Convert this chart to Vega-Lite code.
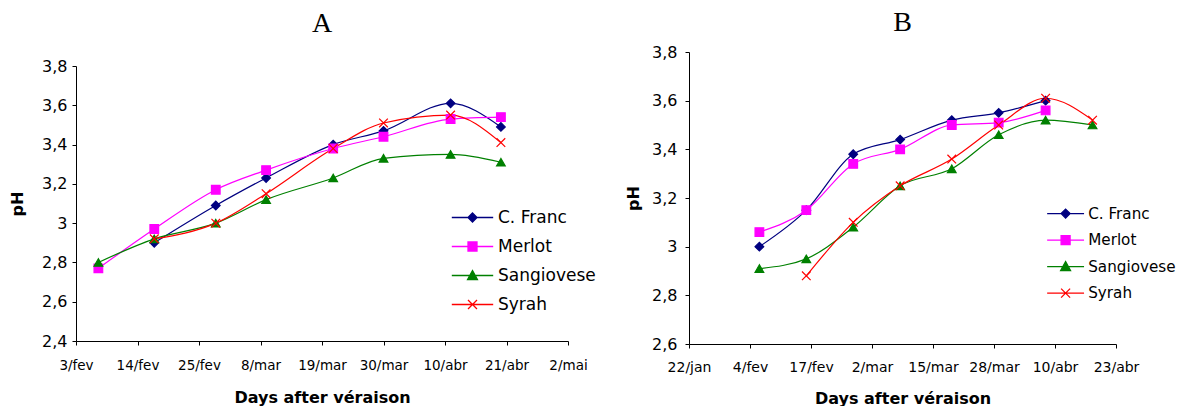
{
  "$schema": "https://vega.github.io/schema/vega-lite/v6.json",
  "background": "white",
  "padding": {"left": 9, "top": 9, "right": 0, "bottom": 0},
  "config": {
    "view": {"stroke": null},
    "font": "DejaVu Sans",
    "axis": {
      "grid": false, "domainColor": "black", "tickColor": "black", "labelColor": "black", "titleColor": "black",
      "labelFont": "DejaVu Sans", "labelFontSize": 14, "titleFont": "DejaVu Sans", "titleFontSize": 16,
      "titleFontWeight": "bold", "domainWidth": 1, "tickWidth": 1, "tickSize": 4
    },
    "axisX": {"labelFlush": false, "labelOverlap": false},
    "axisY": {"labelFontSize": 16},
    "title": {"font": "Liberation Serif", "fontSize": 28, "fontWeight": "normal", "color": "black"},
    "legend": {"labelFont": "DejaVu Sans", "labelColor": "black", "title": null}
  },
  "datasets": {
    "A": [
      {"variety": "C. Franc", "date": "2007-02-17", "pH": 2.90},
      {"variety": "C. Franc", "date": "2007-02-28", "pH": 3.09},
      {"variety": "C. Franc", "date": "2007-03-09", "pH": 3.23},
      {"variety": "C. Franc", "date": "2007-03-21", "pH": 3.40},
      {"variety": "C. Franc", "date": "2007-03-30", "pH": 3.47},
      {"variety": "C. Franc", "date": "2007-04-11", "pH": 3.61},
      {"variety": "C. Franc", "date": "2007-04-20", "pH": 3.49},
      {"variety": "Merlot", "date": "2007-02-07", "pH": 2.77},
      {"variety": "Merlot", "date": "2007-02-17", "pH": 2.97},
      {"variety": "Merlot", "date": "2007-02-28", "pH": 3.17},
      {"variety": "Merlot", "date": "2007-03-09", "pH": 3.27},
      {"variety": "Merlot", "date": "2007-03-21", "pH": 3.38},
      {"variety": "Merlot", "date": "2007-03-30", "pH": 3.44},
      {"variety": "Merlot", "date": "2007-04-11", "pH": 3.53},
      {"variety": "Merlot", "date": "2007-04-20", "pH": 3.54},
      {"variety": "Sangiovese", "date": "2007-02-07", "pH": 2.80},
      {"variety": "Sangiovese", "date": "2007-02-17", "pH": 2.92},
      {"variety": "Sangiovese", "date": "2007-02-28", "pH": 3.00},
      {"variety": "Sangiovese", "date": "2007-03-09", "pH": 3.12},
      {"variety": "Sangiovese", "date": "2007-03-21", "pH": 3.23},
      {"variety": "Sangiovese", "date": "2007-03-30", "pH": 3.33},
      {"variety": "Sangiovese", "date": "2007-04-11", "pH": 3.35},
      {"variety": "Sangiovese", "date": "2007-04-20", "pH": 3.31},
      {"variety": "Syrah", "date": "2007-02-17", "pH": 2.92},
      {"variety": "Syrah", "date": "2007-02-28", "pH": 3.00},
      {"variety": "Syrah", "date": "2007-03-09", "pH": 3.15},
      {"variety": "Syrah", "date": "2007-03-21", "pH": 3.38},
      {"variety": "Syrah", "date": "2007-03-30", "pH": 3.51},
      {"variety": "Syrah", "date": "2007-04-11", "pH": 3.55},
      {"variety": "Syrah", "date": "2007-04-20", "pH": 3.41}
    ],
    "B": [
      {"variety": "C. Franc", "date": "2007-02-06", "pH": 3.00},
      {"variety": "C. Franc", "date": "2007-02-16", "pH": 3.15},
      {"variety": "C. Franc", "date": "2007-02-26", "pH": 3.38},
      {"variety": "C. Franc", "date": "2007-03-08", "pH": 3.44},
      {"variety": "C. Franc", "date": "2007-03-19", "pH": 3.52},
      {"variety": "C. Franc", "date": "2007-03-29", "pH": 3.55},
      {"variety": "C. Franc", "date": "2007-04-08", "pH": 3.60},
      {"variety": "Merlot", "date": "2007-02-06", "pH": 3.06},
      {"variety": "Merlot", "date": "2007-02-16", "pH": 3.15},
      {"variety": "Merlot", "date": "2007-02-26", "pH": 3.34},
      {"variety": "Merlot", "date": "2007-03-08", "pH": 3.40},
      {"variety": "Merlot", "date": "2007-03-19", "pH": 3.50},
      {"variety": "Merlot", "date": "2007-03-29", "pH": 3.51},
      {"variety": "Merlot", "date": "2007-04-08", "pH": 3.56},
      {"variety": "Sangiovese", "date": "2007-02-06", "pH": 2.91},
      {"variety": "Sangiovese", "date": "2007-02-16", "pH": 2.95},
      {"variety": "Sangiovese", "date": "2007-02-26", "pH": 3.08},
      {"variety": "Sangiovese", "date": "2007-03-08", "pH": 3.25},
      {"variety": "Sangiovese", "date": "2007-03-19", "pH": 3.32},
      {"variety": "Sangiovese", "date": "2007-03-29", "pH": 3.46},
      {"variety": "Sangiovese", "date": "2007-04-08", "pH": 3.52},
      {"variety": "Sangiovese", "date": "2007-04-18", "pH": 3.50},
      {"variety": "Syrah", "date": "2007-02-16", "pH": 2.88},
      {"variety": "Syrah", "date": "2007-02-26", "pH": 3.10},
      {"variety": "Syrah", "date": "2007-03-08", "pH": 3.25},
      {"variety": "Syrah", "date": "2007-03-19", "pH": 3.36},
      {"variety": "Syrah", "date": "2007-03-29", "pH": 3.50},
      {"variety": "Syrah", "date": "2007-04-08", "pH": 3.61},
      {"variety": "Syrah", "date": "2007-04-18", "pH": 3.52}
    ]
  },
  "columns": 2,
  "align": "none",
  "spacing": 29,
  "resolve": {
    "scale": {"x": "independent", "y": "independent", "color": "independent", "shape": "independent", "stroke": "independent"},
    "legend": {"color": "independent", "shape": "independent", "stroke": "independent"}
  },
  "concat": [
    {
      "width": 492, "height": 289,
      "title": {"text": "A", "offset": 14},
      "data": {"name": "A"},
      "encoding": {
        "x": {
          "field": "date", "type": "temporal",
          "scale": {"type": "utc", "domain": [{"year": 2007, "month": 2, "date": 3, "utc": true}, {"year": 2007, "month": 5, "date": 2, "utc": true}]},
          "axis": {
            "title": "Days after véraison",
            "values": [
              {"year": 2007, "month": 2, "date": 3, "utc": true},
              {"year": 2007, "month": 2, "date": 14, "utc": true},
              {"year": 2007, "month": 2, "date": 25, "utc": true},
              {"year": 2007, "month": 3, "date": 8, "utc": true},
              {"year": 2007, "month": 3, "date": 19, "utc": true},
              {"year": 2007, "month": 3, "date": 30, "utc": true},
              {"year": 2007, "month": 4, "date": 10, "utc": true},
              {"year": 2007, "month": 4, "date": 21, "utc": true},
              {"year": 2007, "month": 5, "date": 2, "utc": true}
            ],
            "labelExpr": "utcdate(datum.value) + '/' + ['jan','fev','mar','abr','mai','jun'][utcmonth(datum.value)]",
            "labelFontSize": 13.5, "labelPadding": 13, "titlePadding": 18
          }
        },
        "y": {
          "field": "pH", "type": "quantitative",
          "scale": {"domain": [2.4, 3.8], "nice": false, "zero": false, "range": [289, 14]},
          "axis": {
            "title": "pH", "values": [2.4, 2.6, 2.8, 3.0, 3.2, 3.4, 3.6, 3.8],
            "labelExpr": "replace(format(datum.value, '.1~f'), '.', ',')",
            "labelPadding": 5, "titlePadding": 16
          }
        },
        "color": {
          "field": "variety", "type": "nominal",
          "scale": {"domain": ["C. Franc", "Merlot", "Sangiovese", "Syrah"], "range": ["#000080", "#FF00FF", "#008000", "#FF0000"]},
          "legend": {
            "orient": "none", "legendX": 388, "legendY": 157, "labelFontSize": 17,
            "symbolSize": 81, "labelOffset": 17, "rowPadding": 11,
            "encode": {
              "symbols": {
                "update": {
                  "shape": {"signal": "datum.value === 'C. Franc' ? 'M-4.6,0H4.6M0,-1L1,0L0,1L-1,0Z' : datum.value === 'Merlot' ? 'M-4.6,0H4.6M-1,-1H1V1H-1Z' : datum.value === 'Sangiovese' ? 'M-4.6,0H4.6M0,-1.1L1.1,0.9H-1.1Z' : 'M-4.6,0H4.6M-1,-1L1,1M-1,1L1,-1'"},
                  "strokeWidth": {"value": 1.3},
                  "opacity": {"value": 1}
                }
              }
            }
          }
        }
      },
      "layer": [
        {"mark": {"type": "line", "interpolate": "monotone", "strokeWidth": 1.2}},
        {
          "mark": {"type": "point", "filled": true, "size": 75, "strokeWidth": 1.2, "opacity": 1},
          "encoding": {
            "shape": {
              "field": "variety", "type": "nominal",
              "scale": {"domain": ["Syrah", "Sangiovese", "Merlot", "C. Franc"], "range": ["M-1,-1L1,1M-1,1L1,-1", "triangle-up", "square", "diamond"]},
              "legend": null
            },
            "stroke": {
              "field": "variety", "type": "nominal",
              "scale": {"domain": ["C. Franc", "Merlot", "Sangiovese", "Syrah"], "range": ["#000080", "#FF00FF", "#008000", "#FF0000"]},
              "legend": null
            }
          }
        }
      ]
    },
    {
      "width": 427, "height": 292,
      "title": {"text": "B", "offset": 7},
      "data": {"name": "B"},
      "encoding": {
        "x": {
          "field": "date", "type": "temporal",
          "scale": {"type": "utc", "domain": [{"year": 2007, "month": 1, "date": 22, "utc": true}, {"year": 2007, "month": 4, "date": 23, "utc": true}]},
          "axis": {
            "title": "Days after véraison",
            "values": [
              {"year": 2007, "month": 1, "date": 22, "utc": true},
              {"year": 2007, "month": 2, "date": 4, "utc": true},
              {"year": 2007, "month": 2, "date": 17, "utc": true},
              {"year": 2007, "month": 3, "date": 2, "utc": true},
              {"year": 2007, "month": 3, "date": 15, "utc": true},
              {"year": 2007, "month": 3, "date": 28, "utc": true},
              {"year": 2007, "month": 4, "date": 10, "utc": true},
              {"year": 2007, "month": 4, "date": 23, "utc": true}
            ],
            "labelExpr": "utcdate(datum.value) + '/' + ['jan','fev','mar','abr','mai','jun'][utcmonth(datum.value)]",
            "labelFontSize": 14, "labelPadding": 12, "titlePadding": 16
          }
        },
        "y": {
          "field": "pH", "type": "quantitative",
          "scale": {"domain": [2.6, 3.8], "nice": false, "zero": false},
          "axis": {
            "title": "pH", "values": [2.6, 2.8, 3.0, 3.2, 3.4, 3.6, 3.8],
            "labelExpr": "replace(format(datum.value, '.1~f'), '.', ',')",
            "labelPadding": 8, "titlePadding": 10
          }
        },
        "color": {
          "field": "variety", "type": "nominal",
          "scale": {"domain": ["C. Franc", "Merlot", "Sangiovese", "Syrah"], "range": ["#000080", "#FF00FF", "#008000", "#FF0000"]},
          "legend": {
            "orient": "none", "legendX": 369, "legendY": 154, "labelFontSize": 15.2,
            "symbolSize": 81, "labelOffset": 15, "rowPadding": 10.5,
            "encode": {
              "symbols": {
                "update": {
                  "shape": {"signal": "datum.value === 'C. Franc' ? 'M-4.1,0H4.1M0,-1L1,0L0,1L-1,0Z' : datum.value === 'Merlot' ? 'M-4.1,0H4.1M-1,-1H1V1H-1Z' : datum.value === 'Sangiovese' ? 'M-4.1,0H4.1M0,-1.1L1.1,0.9H-1.1Z' : 'M-4.1,0H4.1M-1,-1L1,1M-1,1L1,-1'"},
                  "strokeWidth": {"value": 1.3},
                  "opacity": {"value": 1}
                }
              }
            }
          }
        }
      },
      "layer": [
        {"mark": {"type": "line", "interpolate": "monotone", "strokeWidth": 1.2}},
        {
          "mark": {"type": "point", "filled": true, "size": 75, "strokeWidth": 1.2, "opacity": 1},
          "encoding": {
            "shape": {
              "field": "variety", "type": "nominal",
              "scale": {"domain": ["Syrah", "Sangiovese", "Merlot", "C. Franc"], "range": ["M-1,-1L1,1M-1,1L1,-1", "triangle-up", "square", "diamond"]},
              "legend": null
            },
            "stroke": {
              "field": "variety", "type": "nominal",
              "scale": {"domain": ["C. Franc", "Merlot", "Sangiovese", "Syrah"], "range": ["#000080", "#FF00FF", "#008000", "#FF0000"]},
              "legend": null
            }
          }
        }
      ]
    }
  ]
}
